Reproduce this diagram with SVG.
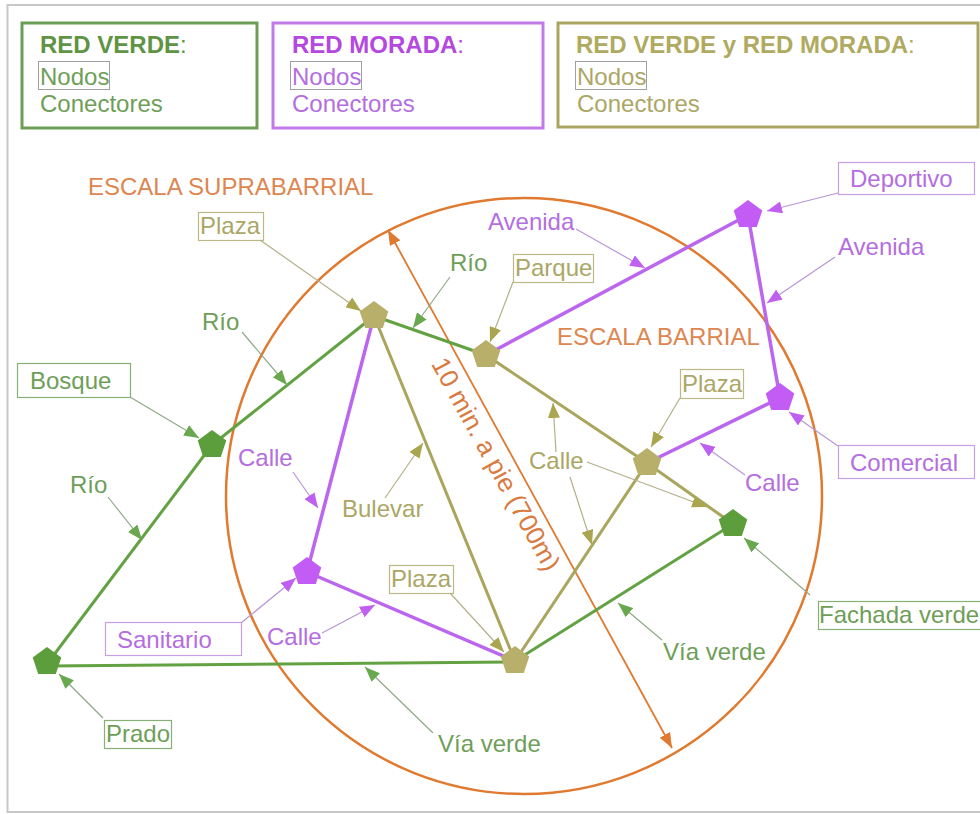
<svg xmlns="http://www.w3.org/2000/svg" width="980" height="814" viewBox="0 0 980 814">
<defs>
<style>
text{font-family:"Liberation Sans",Arial,sans-serif;font-size:24px}
.tg{fill:#6e9e58}.to{fill:#aba766}.tp{fill:#b46ee0}.tor{fill:#dd8650}
.hb{font-weight:bold}
.bg{fill:none;stroke:#6c9f55;stroke-width:3}
.bp{fill:none;stroke:#c27ae8;stroke-width:3}
.bo{fill:none;stroke:#aaa662;stroke-width:3}
.nb{fill:none;stroke:#a0a0a0;stroke-width:1}
.lbg{fill:none;stroke:#86b075;stroke-width:1.2}
.lbo{fill:none;stroke:#bdb888;stroke-width:1.2}
.lbp{fill:none;stroke:#c9a0e8;stroke-width:1.2}
.eg{stroke:#63a242;stroke-width:3;fill:none}
.eo{stroke:#aaa55c;stroke-width:3;fill:none}
.ep{stroke:#bb66ee;stroke-width:3.5;fill:none}
.lg{stroke:#90a888;stroke-width:1.2;fill:none;marker-end:url(#ag)}
.lo{stroke:#b4b08a;stroke-width:1.2;fill:none;marker-end:url(#ao)}
.lp{stroke:#b896d6;stroke-width:1.2;fill:none;marker-end:url(#ap)}
.ng{fill:#5c9e3c}.no{fill:#b8b06a}.np{fill:#c35cf5}
</style>
<path id="pent" d="M0,-15 L14.3,-4.6 L8.8,12.1 L-8.8,12.1 L-14.3,-4.6 Z"/>
<marker id="ag" markerUnits="userSpaceOnUse" markerWidth="16" markerHeight="12" refX="15" refY="6" orient="auto"><path d="M0,0 L15,6 L0,12 Z" fill="#6aa84f"/></marker>
<marker id="ao" markerUnits="userSpaceOnUse" markerWidth="16" markerHeight="12" refX="15" refY="6" orient="auto"><path d="M0,0 L15,6 L0,12 Z" fill="#aaa650"/></marker>
<marker id="ap" markerUnits="userSpaceOnUse" markerWidth="16" markerHeight="12" refX="15" refY="6" orient="auto"><path d="M0,0 L15,6 L0,12 Z" fill="#c060f0"/></marker>
<marker id="aor" markerUnits="userSpaceOnUse" markerWidth="16" markerHeight="12" refX="15" refY="6" orient="auto-start-reverse"><path d="M0,0 L15,6 L0,12 Z" fill="#e07a30"/></marker>
</defs>
<rect x="0" y="0" width="980" height="814" fill="#ffffff"/>
<rect x="7.5" y="5" width="990" height="807" fill="none" stroke="#c8c8c8" stroke-width="2"/>

<g id="legend">
<rect class="bg" x="22" y="23" width="235" height="105"/>
<text class="hb" x="40" y="53" fill="#5f9444">RED VERDE<tspan font-weight="normal">:</tspan></text>
<rect class="nb" x="38.5" y="61.5" width="71" height="28"/>
<text class="tg" x="40" y="85">Nodos</text>
<text class="tg" x="40" y="112">Conectores</text>
<rect class="bp" x="273" y="23" width="270" height="105"/>
<text class="hb" x="292" y="53" fill="#b448e0">RED MORADA<tspan font-weight="normal">:</tspan></text>
<rect class="nb" x="290.5" y="61.5" width="71" height="28"/>
<text class="tp" x="292" y="85">Nodos</text>
<text class="tp" x="292" y="112">Conectores</text>
<rect class="bo" x="558" y="23" width="420" height="104"/>
<text class="hb" x="576" y="53" fill="#b0aa60">RED VERDE y RED MORADA<tspan font-weight="normal">:</tspan></text>
<rect class="nb" x="575.5" y="61.5" width="71" height="28"/>
<text class="to" x="577" y="85">Nodos</text>
<text class="to" x="577" y="112">Conectores</text>
</g>

<g id="escala">
<circle cx="524" cy="496" r="298" fill="none" stroke="#e07a30" stroke-width="2.5"/>
<text class="tor" x="88" y="195">ESCALA SUPRABARRIAL</text>
<text class="tor" x="557" y="345">ESCALA BARRIAL</text>
<line x1="388" y1="230" x2="672" y2="748" stroke="#e07a30" stroke-width="1.8" marker-start="url(#aor)" marker-end="url(#aor)"/>
<text transform="translate(496,464) rotate(61.2)" x="0" y="9" text-anchor="middle" fill="#d97a40" style="font-size:26px">10 min. a pie (700m)</text>
</g>

<g id="connectors">
<line class="eg" x1="47" y1="664" x2="212" y2="445"/>
<line class="eg" x1="212" y1="445" x2="374" y2="316"/>
<line class="eg" x1="374" y1="316" x2="486" y2="355"/>
<line class="eg" x1="47" y1="666" x2="515" y2="662"/>
<line class="eg" x1="515" y1="661" x2="733" y2="524"/>
<line class="eo" x1="374" y1="316" x2="515" y2="661"/>
<line class="eo" x1="486" y1="355" x2="647" y2="463"/>
<line class="eo" x1="647" y1="463" x2="733" y2="524"/>
<line class="eo" x1="647" y1="463" x2="515" y2="661"/>
<line class="ep" x1="486" y1="355" x2="748" y2="215"/>
<line class="ep" x1="748" y1="215" x2="780" y2="398"/>
<line class="ep" x1="780" y1="398" x2="647" y2="463"/>
<line class="ep" x1="374" y1="316" x2="307" y2="572"/>
<line class="ep" x1="307" y1="572" x2="515" y2="661"/>

<text class="tg" x="450" y="271">Río</text>
<line class="lg" x1="450" y1="277" x2="413" y2="328"/>
<text class="tp" x="488" y="230">Avenida</text>
<line class="lp" x1="576" y1="229" x2="645" y2="268"/>
<text class="tp" x="838" y="255">Avenida</text>
<line class="lp" x1="835" y1="257" x2="767" y2="303"/>
<text class="tp" x="745" y="491">Calle</text>
<line class="lp" x1="745" y1="475" x2="700" y2="443"/>
<text class="to" x="529" y="469">Calle</text>
<line class="lo" x1="556" y1="452" x2="553" y2="403"/>
<line class="lo" x1="587" y1="462" x2="707" y2="507"/>
<line class="lo" x1="570" y1="477" x2="592" y2="545"/>
<text class="to" x="342" y="517">Bulevar</text>
<line class="lo" x1="385" y1="498" x2="423" y2="443"/>
<text class="tp" x="238" y="466">Calle</text>
<line class="lp" x1="293" y1="472" x2="318" y2="508"/>
<text class="tg" x="202" y="330">Río</text>
<line class="lg" x1="242" y1="332" x2="287" y2="385"/>
<text class="tg" x="70" y="493">Río</text>
<line class="lg" x1="108" y1="497" x2="142" y2="540"/>
<text class="tp" x="267" y="645">Calle</text>
<line class="lp" x1="322" y1="633" x2="375" y2="605"/>
<text class="tg" x="438" y="752">Vía verde</text>
<line class="lg" x1="433" y1="733" x2="365" y2="667"/>
<text class="tg" x="663" y="660">Vía verde</text>
<line class="lg" x1="662" y1="640" x2="618" y2="603"/>
</g>

<g id="node-bosque">
<use href="#pent" x="212" y="445" class="ng"/>
<rect class="lbg" x="17.5" y="363.5" width="113" height="34"/>
<text class="tg" x="30" y="389">Bosque</text>
<line class="lg" x1="130" y1="397" x2="199" y2="438"/>
</g>
<g id="node-prado">
<use href="#pent" x="47" y="662" class="ng"/>
<rect class="lbg" x="104.5" y="720.5" width="67" height="28"/>
<text class="tg" x="106" y="742">Prado</text>
<line class="lg" x1="103" y1="718" x2="59" y2="674"/>
</g>
<g id="node-fachada">
<use href="#pent" x="733" y="524" class="ng"/>
<rect class="lbg" x="818.5" y="601.5" width="170" height="28"/>
<text class="tg" x="819" y="623">Fachada verde</text>
<line class="lg" x1="810" y1="595" x2="744" y2="538"/>
</g>
<g id="node-plaza-top">
<use href="#pent" x="374" y="316" class="no"/>
<rect class="lbo" x="198.5" y="212.5" width="65" height="28"/>
<text class="to" x="200" y="234">Plaza</text>
<line class="lo" x1="260" y1="240" x2="361" y2="311"/>
</g>
<g id="node-parque">
<use href="#pent" x="486" y="355" class="no"/>
<rect class="lbo" x="513.5" y="254.5" width="80" height="28"/>
<text class="to" x="515" y="276">Parque</text>
<line class="lo" x1="513" y1="282" x2="490" y2="342"/>
</g>
<g id="node-plaza-right">
<use href="#pent" x="647" y="463" class="no"/>
<rect class="lbo" x="680.5" y="369.5" width="63" height="29"/>
<text class="to" x="682" y="392">Plaza</text>
<line class="lo" x1="680" y1="398" x2="651" y2="447"/>
</g>
<g id="node-plaza-bottom">
<use href="#pent" x="515" y="661" class="no"/>
<rect class="lbo" x="389.5" y="565.5" width="64" height="28"/>
<text class="to" x="391" y="587">Plaza</text>
<line class="lo" x1="450" y1="593" x2="504" y2="652"/>
</g>
<g id="node-deportivo">
<use href="#pent" x="748" y="215" class="np"/>
<rect class="lbp" x="838.5" y="162.5" width="136" height="32"/>
<text class="tp" x="850" y="187">Deportivo</text>
<line class="lp" x1="838" y1="193" x2="767" y2="211"/>
</g>
<g id="node-comercial">
<use href="#pent" x="780" y="398" class="np"/>
<rect class="lbp" x="838.5" y="445.5" width="136" height="33"/>
<text class="tp" x="850" y="471">Comercial</text>
<line class="lp" x1="838" y1="446" x2="789" y2="412"/>
</g>
<g id="node-sanitario">
<use href="#pent" x="307" y="572" class="np"/>
<rect class="lbp" x="105.5" y="622.5" width="136" height="33"/>
<text class="tp" x="117" y="648">Sanitario</text>
<line class="lp" x1="241" y1="623" x2="296" y2="578"/>
</g>
</svg>
